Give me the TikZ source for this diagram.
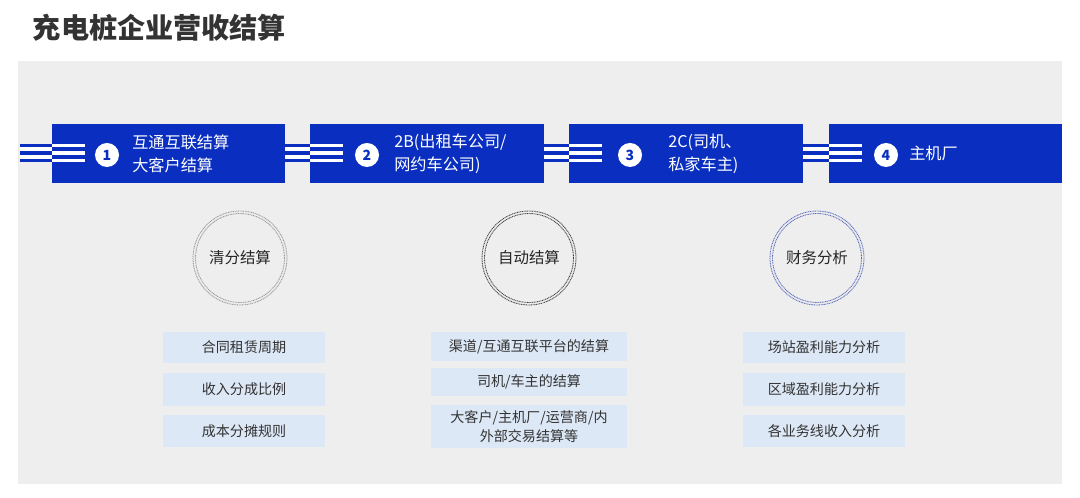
\documentclass[tikz,border=0pt]{standalone}
\usepackage{fontspec}
\setmainfont{Noto Sans CJK SC}
\definecolor{stageblue}{HTML}{0A2FC0}
\definecolor{panelgray}{HTML}{EEEEEE}
\definecolor{itemblue}{HTML}{DDE8F6}
\definecolor{textgray}{HTML}{333333}
\definecolor{ringblue}{HTML}{5A6AB8}
\tikzset{
  stage/.style={fill=stageblue, minimum width=5.825cm, minimum height=1.475cm, inner sep=0pt},
  stagenum/.style={circle, fill=white, text=stageblue, minimum size=0.6cm, inner sep=0pt, font=\bfseries\fontsize{10}{12}\selectfont},
  stagetext/.style={anchor=west, text=white, align=left, inner sep=0pt, font=\fontsize{11.5}{16.5}\selectfont},
  hub/.style={circle, minimum size=2.25cm, inner sep=0pt, text=black!85, font=\fontsize{11}{13}\selectfont},
  hubring/.style={line width=0.6pt, dash pattern=on 0.7pt off 0.5pt},
  item/.style={fill=itemblue, minimum width=4.05cm, inner sep=0pt, text=textgray, align=center, font=\fontsize{10}{14}\selectfont},
  railout/.style={stageblue, line width=2.2pt},
  railin/.style={white, line width=2.2pt}
}

\begin{document}
\begin{tikzpicture}[x=0.025cm, y=-0.025cm]
  \useasboundingbox[fill=white] (0,0) rectangle (1080,498);
  \node[anchor=west, text=textgray, font=\bfseries\fontsize{20}{24}\selectfont] (title) at (28,28) {充电桩企业营收结算};
  \fill[panelgray] (18,61) rectangle (1062,484);

  % stripes in front of each stage
  \foreach \l/\r in {20/52, 285/311, 543/570, 802/829} {
    \fill[white] (\l,144) rectangle (\r,162);
    \foreach \y in {145.5, 153, 160.5}
      \draw[railout] (\l,\y) -- (\r,\y);
  }

  % stages
  \node[stage] (stage1) at (168.5,153.5) {};
  \node[stage] (stage2) at (427,153.5) {};
  \node[stage] (stage3) at (686,153.5) {};
  \node[stage] (stage4) at (945.5,153.5) {};
  \foreach \s in {1,...,4}
    \foreach \y in {145.5, 153, 160.5}
      \draw[railin] (stage\s.west |- 0,\y) -- ++(33,0);

  \node[stagenum] (num1) at (107,155) {1};
  \node[stagenum] (num2) at (367,155) {2};
  \node[stagenum] (num3) at (630,155) {3};
  \node[stagenum] (num4) at (886,155) {4};
  \node[stagetext] (lbl1) at (132,154) {互通互联结算\\大客户结算};
  \node[stagetext] (lbl2) at (394,154) {2B(出租车公司/\\网约车公司)};
  \node[stagetext] (lbl3) at (668,154) {2C(司机、\\私家车主)};
  \node[stagetext] (lbl4) at (909,153) {主机厂};

  % hubs
  \node[hub] (hub1) at (240,258) {清分结算};
  \node[hub] (hub2) at (529,258) {自动结算};
  \node[hub] (hub3) at (817,258) {财务分析};
  \foreach \h/\c in {hub1/black!40, hub2/black!75, hub3/ringblue} {
    \draw[hubring, \c] (\h.center) circle (47);
    \draw[hubring, \c] (\h.center) circle (44.5);
  }

  % items
  \node[item, minimum height=0.775cm] (item11) at (244,347.5) {合同租赁周期};
  \node[item, minimum height=0.825cm] (item12) at (244,389.5) {收入分成比例};
  \node[item, minimum height=0.8cm] (item13) at (244,431) {成本分摊规则};

  \node[item, minimum width=4.9cm, minimum height=0.725cm] (item21) at (529,346.5) {渠道/互通互联平台的结算};
  \node[item, minimum width=4.9cm, minimum height=0.7cm] (item22) at (529,382) {司机/车主的结算};
  \node[item, minimum width=4.9cm, minimum height=1.075cm] (item23) at (529,426.5) {大客户/主机厂/运营商/内\\外部交易结算等};

  \node[item, minimum height=0.775cm] (item31) at (824,347.5) {场站盈利能力分析};
  \node[item, minimum height=0.825cm] (item32) at (824,389.5) {区域盈利能力分析};
  \node[item, minimum height=0.8cm] (item33) at (824,431) {各业务线收入分析};
\end{tikzpicture}
\end{document}
